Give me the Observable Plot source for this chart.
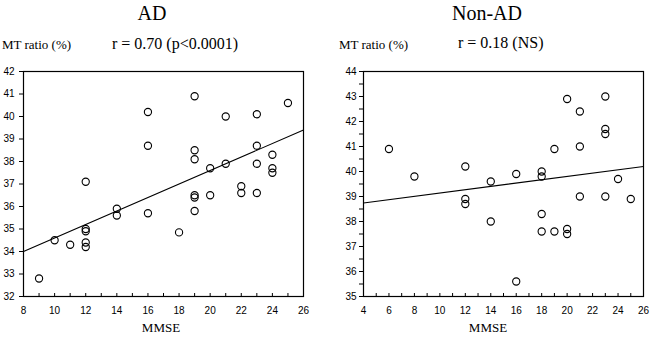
<!DOCTYPE html>
<html>
<head>
<meta charset="utf-8">
<script src="https://cdn.jsdelivr.net/npm/d3@7"></script>
<script src="https://cdn.jsdelivr.net/npm/@observablehq/plot@0.6"></script>
<style>
  html, body { margin: 0; padding: 0; background: #fff; }
  #chart { position: relative; width: 650px; height: 341px; overflow: hidden; font-family: "Liberation Serif", "Times New Roman", serif; color: #000; }
  .t { position: absolute; white-space: nowrap; line-height: 1; }
  .panel { position: absolute; top: 60px; }
</style>
</head>
<body>
<div id="chart"></div>
<script>
// ---- AD panel data ----
const adMMSE = [9, 10, 11, 12, 12, 12, 12, 12, 14, 14, 16, 16, 16, 18, 19, 19, 19, 19, 19, 19, 20, 20, 21, 21, 22, 22, 23, 23, 23, 23, 24, 24, 24, 25];
const adMT   = [32.8, 34.5, 34.3, 37.1, 35.0, 34.9, 34.4, 34.2, 35.9, 35.6, 40.2, 38.7, 35.7, 34.85, 40.9, 38.5, 38.1, 36.5, 36.4, 35.8, 37.7, 36.5, 40.0, 37.9, 36.9, 36.6, 40.1, 38.7, 37.9, 36.6, 38.3, 37.7, 37.5, 40.6];
const adFitX = [8, 26];
const adFitY = [34.0, 39.4];

// ---- Non-AD panel data ----
const nonMMSE = [6, 8, 12, 12, 12, 14, 14, 16, 16, 18, 18, 18, 18, 19, 19, 20, 20, 20, 21, 21, 21, 23, 23, 23, 23, 24, 25];
const nonMT   = [40.9, 39.8, 40.2, 38.9, 38.7, 39.6, 38.0, 39.9, 35.6, 40.0, 39.8, 38.3, 37.6, 40.9, 37.6, 42.9, 37.7, 37.5, 42.4, 41.0, 39.0, 43.0, 41.7, 41.5, 39.0, 39.7, 38.9];
const nonFitX = [4, 26];
const nonFitY = [38.74, 40.2];

// ---- axis settings ----
const adXDomain = [8, 26], adYDomain = [32, 42];
const nonXDomain = [4, 26], nonYDomain = [35, 44];

const titles = [
  {text: "AD", left: 152, top: 3, size: 20, center: true},
  {text: "Non-AD", left: 487, top: 3, size: 20, center: true},
  {text: "MT ratio (%)", left: 2, top: 38, size: 13},
  {text: "r = 0.70 (p<0.0001)", left: 112, top: 36, size: 16},
  {text: "MT ratio (%)", left: 339, top: 38, size: 13},
  {text: "r = 0.18 (NS)", left: 458, top: 35, size: 16},
  {text: "MMSE", left: 161, top: 321, size: 13, center: true},
  {text: "MMSE", left: 488, top: 321, size: 13, center: true}
];

const chart = document.getElementById("chart");
for (const t of titles) {
  const d = document.createElement("div");
  d.className = "t";
  d.textContent = t.text;
  d.style.left = t.left + "px";
  d.style.top = t.top + "px";
  d.style.fontSize = t.size + "px";
  if (t.center) d.style.transform = "translateX(-50%)";
  chart.appendChild(d);
}

function panel(xs, ys, fitX, fitY, xDom, yDom, yStep, opts) {
  const pts = xs.map((x, i) => ({x, y: ys[i]}));
  const fit = fitX.map((x, i) => ({x, y: fitY[i]}));
  const yTicks = d3.range(yDom[0], yDom[1] + 1e-9, yStep);
  return Plot.plot({
    width: 320,
    height: 260,
    marginLeft: opts.ml,
    marginRight: opts.mr,
    marginTop: 11,
    marginBottom: 24,
    style: {fontFamily: "'Liberation Sans', Arial, sans-serif", fontSize: "10px", background: "transparent", color: "#000"},
    x: {domain: xDom},
    y: {domain: yDom},
    marks: [
      Plot.axisY({ticks: yTicks, tickSize: 4, tickPadding: opts.yPad, label: null,
        tickFormat: d => Number.isInteger(d) ? d : ""}),
      Plot.axisX({ticks: d3.range(xDom[0], xDom[1] + 1), tickSize: -3, tickFormat: () => "", label: null}),
      Plot.axisX({ticks: d3.range(xDom[0], xDom[1] + 1, 2), tickSize: 0, tickPadding: 10, label: null}),
      Plot.frame({stroke: "#000", strokeWidth: 1.2}),
      Plot.line(fit, {x: "x", y: "y", stroke: "#000", strokeWidth: 1.1}),
      Plot.dot(pts, {x: "x", y: "y", r: 3.6, stroke: "#000", strokeWidth: 1.1, fill: "none"})
    ]
  });
}

const p1 = panel(adMMSE, adMT, adFitX, adFitY, adXDomain, adYDomain, 1, {ml: 23, mr: 17, yPad: 5});
p1.classList.add("panel");
p1.style.left = "0px";
chart.appendChild(p1);

const p2 = panel(nonMMSE, nonMT, nonFitX, nonFitY, nonXDomain, nonYDomain, 0.5, {ml: 33, mr: 7, yPad: 3});
p2.classList.add("panel");
p2.style.left = "330px";
chart.appendChild(p2);
</script>
</body>
</html>
